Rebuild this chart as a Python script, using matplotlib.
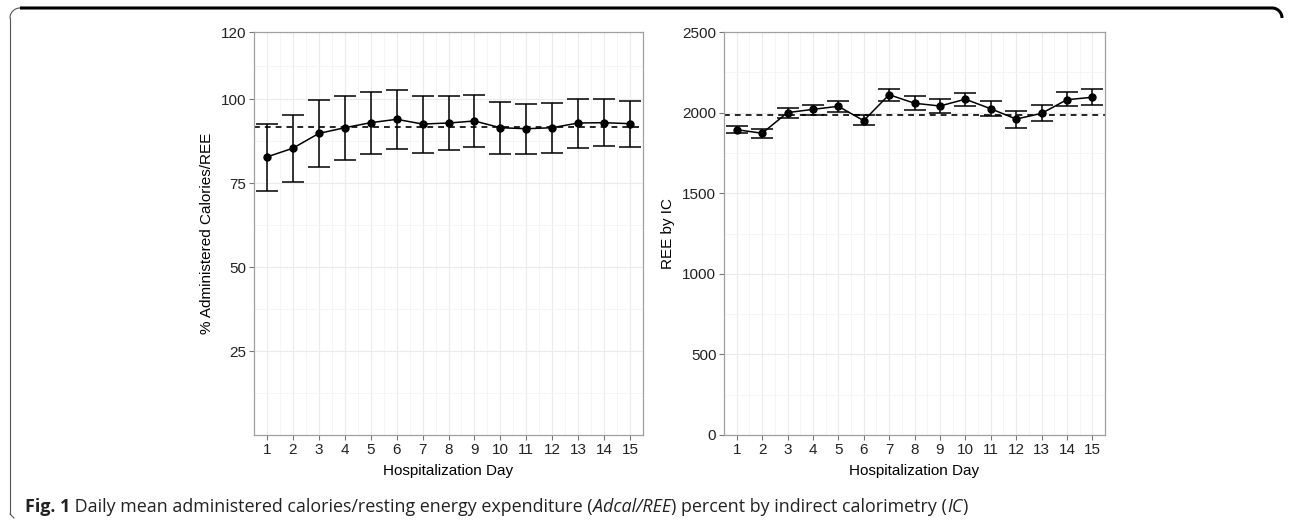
import matplotlib.pyplot as plt
import numpy as np
from matplotlib.lines import Line2D

days = np.arange(1, 16)

# left panel: % administered calories / REE
pct_mean = [82.8, 85.4, 89.8, 91.5, 93.0, 94.0, 92.6, 92.9, 93.5, 91.5, 91.2, 91.5, 92.9, 93.0, 92.7]
pct_low = [72.7, 75.4, 79.9, 81.8, 83.8, 85.1, 84.1, 85.0, 85.7, 83.8, 83.6, 84.1, 85.6, 86.0, 85.7]
pct_high = [92.6, 95.4, 99.7, 100.8, 102.2, 102.7, 100.8, 100.8, 101.3, 99.2, 98.7, 98.9, 100.1, 100.1, 99.5]
pct_overall = 91.6

# right panel: REE by IC
ree_mean = [1894, 1872, 2000, 2020, 2039, 1950, 2111, 2058, 2041, 2083, 2024, 1960, 1995, 2080, 2095]
ree_low = [1872, 1844, 1969, 1987, 2006, 1921, 2074, 2016, 1999, 2043, 1981, 1905, 1945, 2040, 2045]
ree_high = [1919, 1898, 2027, 2049, 2070, 1985, 2146, 2105, 2084, 2122, 2070, 2010, 2050, 2125, 2145]
ree_overall = 1983

pct_ticks = [25, 50, 75, 100, 120]
pct_minor = [12.5, 37.5, 62.5, 87.5, 110]
ree_ticks = [0, 500, 1000, 1500, 2000, 2500]
ree_minor = [250, 750, 1250, 1750, 2250]

plt.rcParams['font.family'] = ['Liberation Sans', 'DejaVu Sans']

fig = plt.figure(figsize=(12.92, 5.2), dpi=100)
W, H = 1292, 520


def panel(rect, mean, low, high, overall, ticks, minor, ylim, ylabel):
    ax = fig.add_axes(rect)
    mean = np.array(mean)
    yerr = [mean - np.array(low), np.array(high) - mean]
    ax.set_xlim(0.55, 15.45)
    ax.set_ylim(*ylim)
    ax.set_xticks(days)
    ax.set_xticks(np.arange(0.5, 16, 1), minor=True)
    ax.set_yticks(ticks)
    ax.set_yticks(minor, minor=True)
    ax.grid(which='major', color='#ebebeb', lw=0.8)
    ax.grid(which='minor', color='#f4f4f4', lw=0.6)
    ax.set_axisbelow(True)
    ax.axhline(overall, color='black', lw=1.2, dashes=(3.5, 3), zorder=2)
    ax.errorbar(days, mean, yerr=yerr, fmt='none', ecolor='black', elinewidth=1.1,
                capsize=8.2, capthick=1.1, zorder=3)
    ax.plot(days, mean, color='black', lw=1.1, marker='o', ms=5, zorder=4)
    for s in ax.spines.values():
        s.set_color('#a0a0a0')
        s.set_linewidth(0.9)
    ax.tick_params(which='major', length=3.5, width=0.8, color='#777777',
                   labelsize=11, labelcolor='#222222', pad=2)
    ax.tick_params(which='minor', length=0)
    ax.set_xlabel('Hospitalization Day', fontsize=11, labelpad=5)
    ax.set_ylabel(ylabel, fontsize=11, labelpad=5)
    return ax


panel([254 / W, 85 / H, 389 / W, 403 / H], pct_mean, pct_low, pct_high, pct_overall,
      pct_ticks, pct_minor, (0, 120), '% Administered Calories/REE')
panel([724 / W, 85 / H, 381 / W, 403 / H], ree_mean, ree_low, ree_high, ree_overall,
      ree_ticks, ree_minor, (0, 2500), 'REE by IC')

# frame of the figure box
r = 10
t = np.linspace(0, np.pi / 2, 20)
top_y = H - 8
xs = np.concatenate([[10, 10], 10 + r - r * np.cos(t), [1282 - r], 1282 - r + r * np.sin(t)])
ys = np.concatenate([[6, top_y - r], top_y - r + r * np.sin(t), [top_y], top_y - r + r * np.cos(t)])
fig.add_artist(Line2D(xs[:2] / W, ys[:2] / H, color='#555555', lw=0.8))
fig.add_artist(Line2D(xs[1:22] / W, ys[1:22] / H, color='#555555', lw=0.8))
fig.add_artist(Line2D(xs[21:] / W, ys[21:] / H, color='black', lw=2.2,
                      solid_capstyle='butt'))
fig.add_artist(Line2D(np.array([10, 10 + 4]) / W, np.array([6, 2]) / H, color='#555555', lw=0.8))

# caption with mixed styles
pieces = [('Fig. 1', 'bold', 'normal'),
          (' Daily mean administered calories/resting energy expenditure (', 'normal', 'normal'),
          ('Adcal/REE', 'normal', 'italic'),
          (') percent by indirect calorimetry (', 'normal', 'normal'),
          ('IC', 'normal', 'italic'),
          (')', 'normal', 'normal')]
fig.canvas.draw()
renderer = fig.canvas.get_renderer()
x = 25
for txt, wgt, sty in pieces:
    tx = fig.text(x / W, (H - 512) / H, txt, fontsize=12.9, fontweight=wgt, fontstyle=sty,
                  family=['Open Sans', 'DejaVu Sans'], color='#222222', va='baseline')
    bb = tx.get_window_extent(renderer)
    x += bb.width

fig.savefig('out.png', dpi=100)
